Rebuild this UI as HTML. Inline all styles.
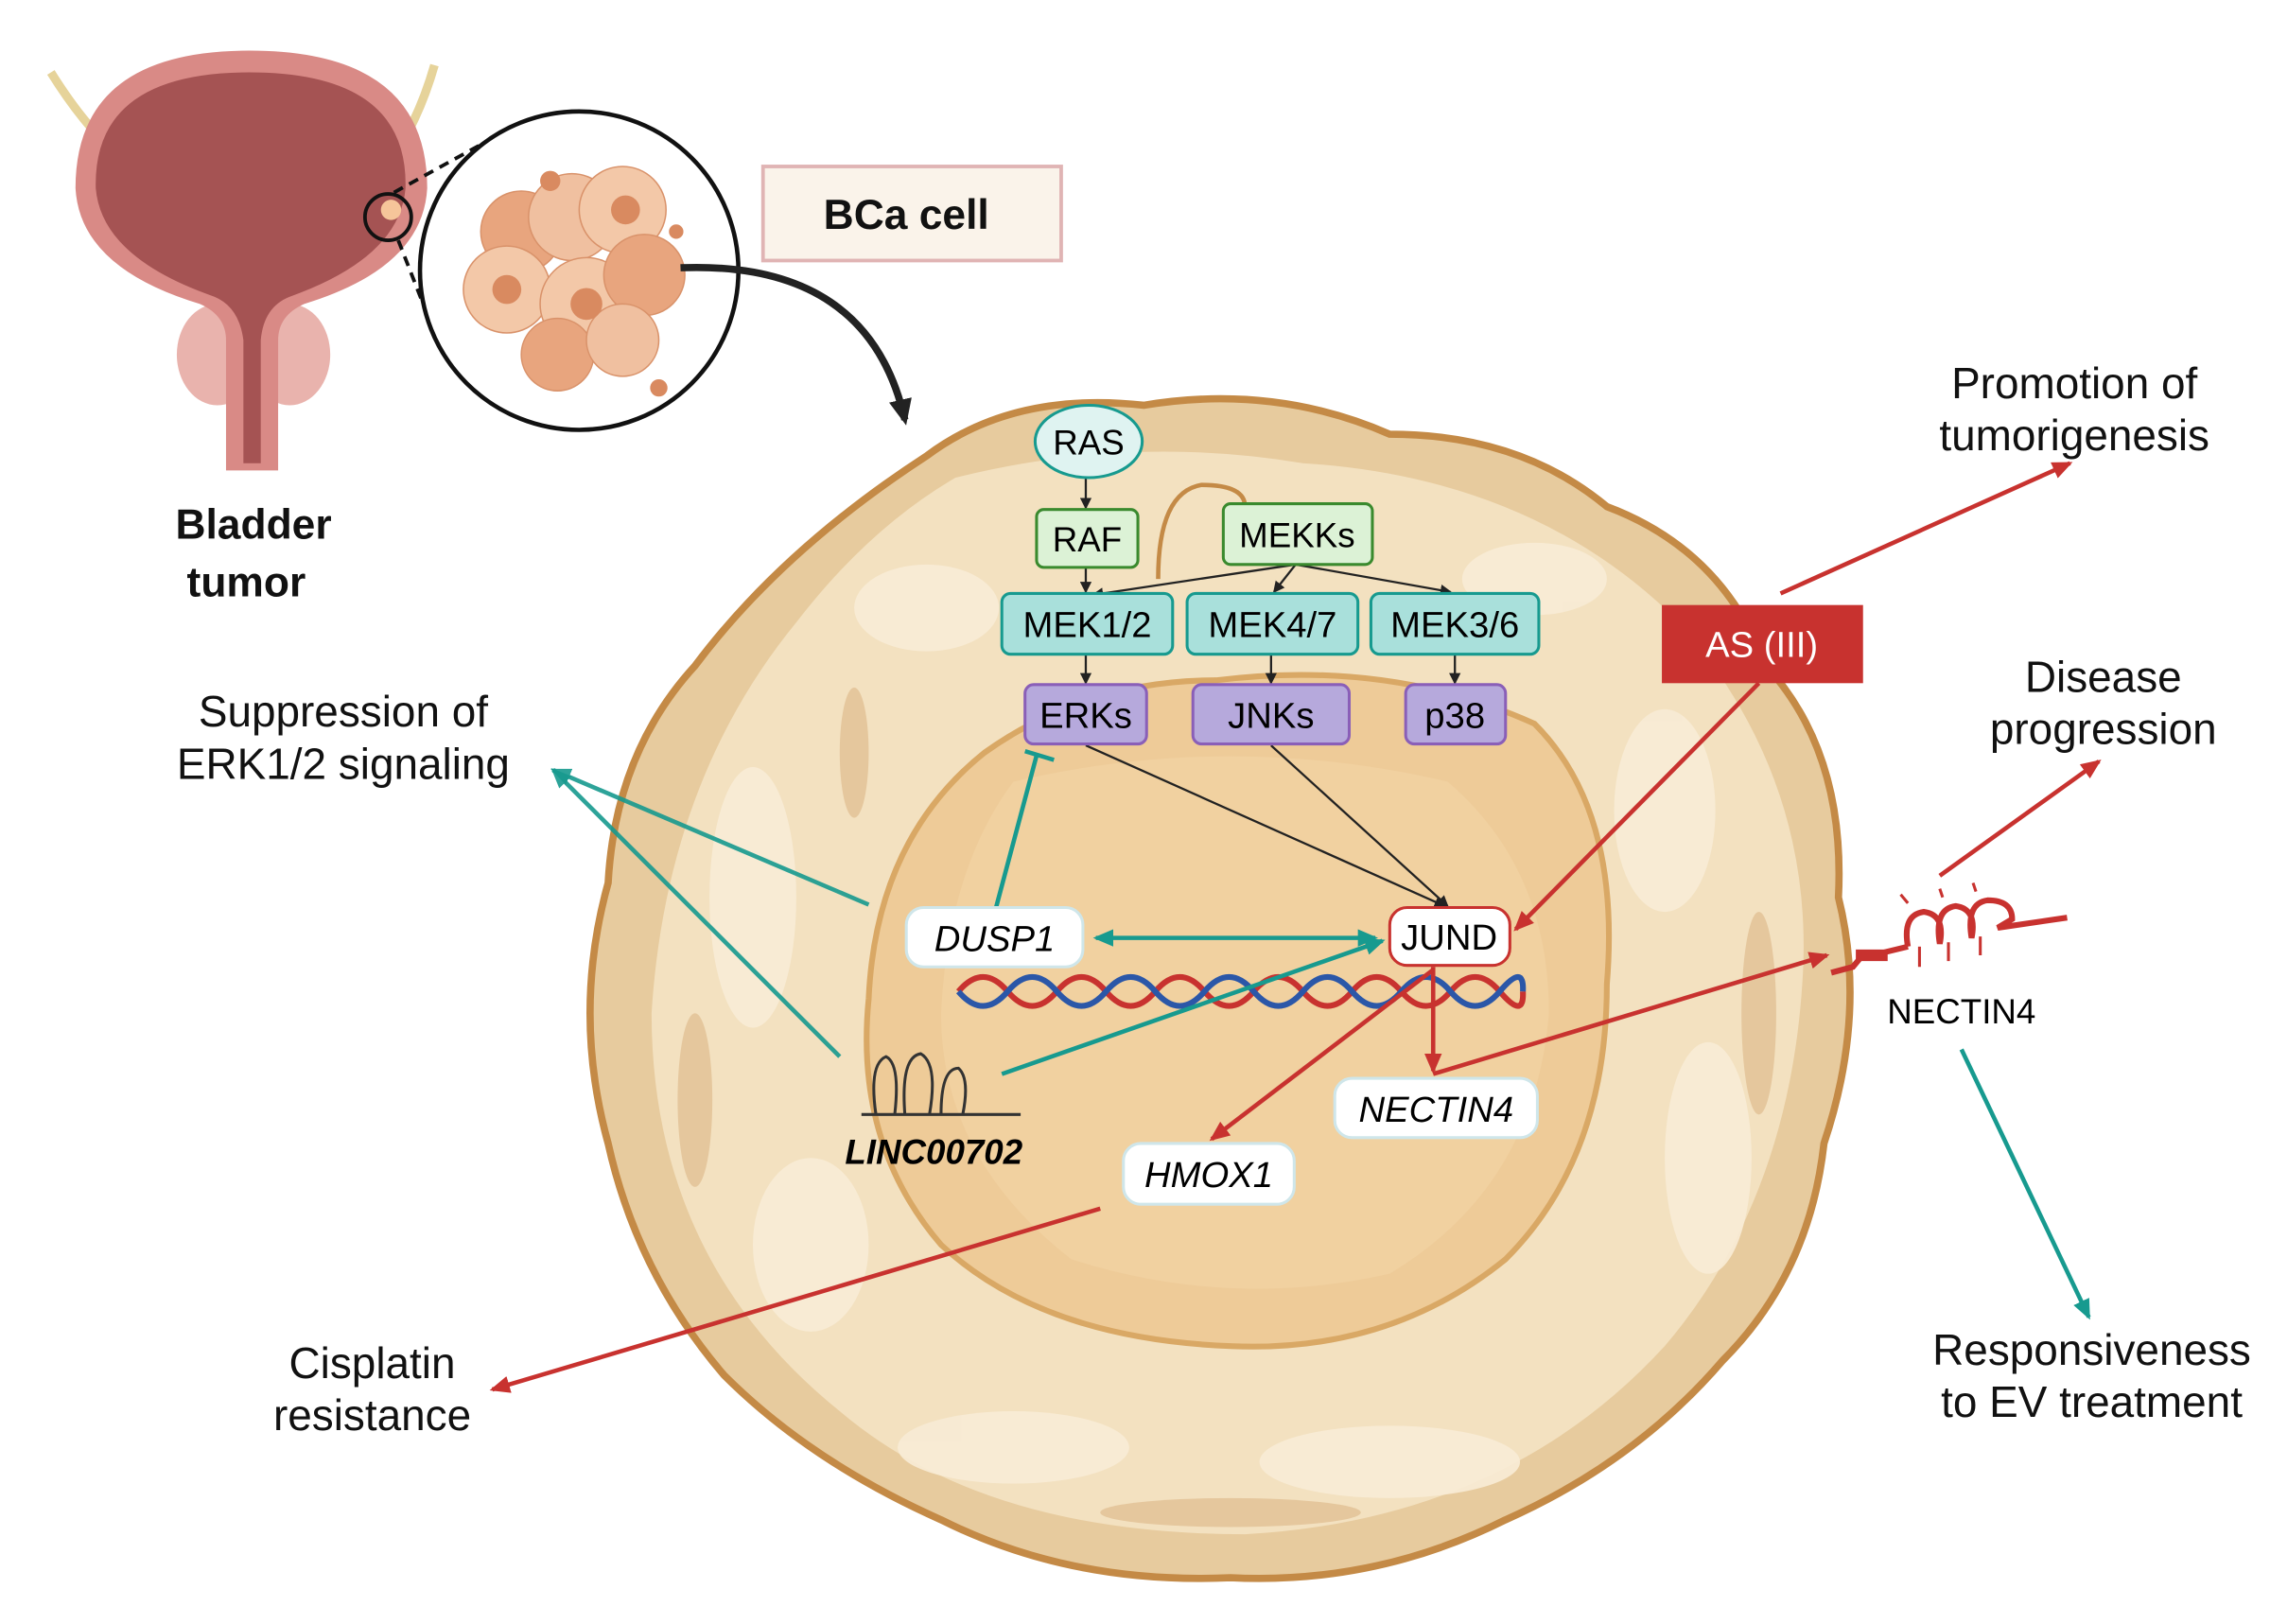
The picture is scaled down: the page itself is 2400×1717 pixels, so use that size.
<!DOCTYPE html>
<html><head><meta charset="utf-8"><style>
html,body{margin:0;padding:0;background:#fff;}
svg{display:block;}
text{font-family:"Liberation Sans",sans-serif;}
</style></head><body>
<svg width="2400" height="1717" viewBox="0 0 1568 1122" xmlns="http://www.w3.org/2000/svg">
<defs>
<marker id="ab" markerWidth="8" markerHeight="8" refX="7" refY="4" orient="auto" markerUnits="userSpaceOnUse"><path d="M0,0 L8,4 L0,8 z" fill="#222"/></marker>
<marker id="ar" markerWidth="14" markerHeight="12" refX="12" refY="6" orient="auto" markerUnits="userSpaceOnUse"><path d="M0,0 L14,6 L0,12 z" fill="#c8322f"/></marker>
<marker id="at" markerWidth="14" markerHeight="12" refX="12" refY="6" orient="auto" markerUnits="userSpaceOnUse"><path d="M0,0 L14,6 L0,12 z" fill="#179a8f"/></marker>
<marker id="atb" markerWidth="14" markerHeight="12" refX="2" refY="6" orient="auto" markerUnits="userSpaceOnUse"><path d="M14,0 L0,6 L14,12 z" fill="#179a8f"/></marker>
<marker id="ak" markerWidth="18" markerHeight="16" refX="14" refY="8" orient="auto" markerUnits="userSpaceOnUse"><path d="M0,0 L18,8 L0,16 z" fill="#222"/></marker>
</defs>

<!-- Bladder -->
<path d="M35,50 Q60,90 85,110" stroke="#e6d39a" stroke-width="6" fill="none"/>
<path d="M300,45 Q290,80 272,108" stroke="#e6d39a" stroke-width="6" fill="none"/>
<ellipse cx="150" cy="245" rx="28" ry="35" fill="#e9b3ad"/>
<ellipse cx="200" cy="245" rx="28" ry="35" fill="#e9b3ad"/>
<path d="M172,35 Q295,35 295,130 Q292,185 210,210 Q192,218 192,235 L192,325 L156,325 L156,235 Q156,218 138,210 Q55,185 52,130 Q52,35 172,35 Z" fill="#d98a86"/>
<path d="M172,50 Q282,50 280,130 Q276,178 200,205 Q182,212 180,235 L180,320 L168,320 L168,235 Q165,212 148,205 Q70,178 66,130 Q64,50 172,50 Z" fill="#a55353"/>
<circle cx="270" cy="145" r="7" fill="#f6c59a"/>
<circle cx="268" cy="150" r="16" fill="none" stroke="#111" stroke-width="2.5"/>
<path d="M272,133 L350,90" stroke="#111" stroke-width="2.5" stroke-dasharray="7,5"/>
<path d="M275,166 L300,230" stroke="#111" stroke-width="2.5" stroke-dasharray="7,5"/>
<text x="175" y="372" font-size="29" font-weight="bold" text-anchor="middle" fill="#111">Bladder</text>
<text x="170" y="412" font-size="29" font-weight="bold" text-anchor="middle" fill="#111">tumor</text>

<!-- magnified circle -->
<ellipse cx="400" cy="187" rx="110" ry="110" fill="#fff" stroke="#111" stroke-width="3"/>
<g fill="#e8a57e" stroke="#d9926a">
<circle cx="360" cy="160" r="28"/><circle cx="395" cy="150" r="30" fill="#f0c0a0"/><circle cx="430" cy="145" r="30" fill="#f3c8a8"/>
<circle cx="350" cy="200" r="30" fill="#f3c8a8"/><circle cx="405" cy="210" r="32" fill="#f3c8a8"/><circle cx="445" cy="190" r="28"/>
<circle cx="385" cy="245" r="25"/><circle cx="430" cy="235" r="25" fill="#f0c0a0"/>
</g>
<g fill="#d98a60"><circle cx="432" cy="145" r="10"/><circle cx="350" cy="200" r="10"/><circle cx="405" cy="210" r="11"/><circle cx="380" cy="125" r="7"/><circle cx="455" cy="268" r="6"/><circle cx="467" cy="160" r="5"/></g>
<path d="M470,185 Q600,180 625,290" stroke="#222" stroke-width="5" fill="none" marker-end="url(#ak)"/>

<!-- BCa box -->
<rect x="527" y="115" width="206" height="65" fill="#faf3ea" stroke="#e0b4b4" stroke-width="2.5"/>
<text x="626" y="158" font-size="29" font-weight="bold" text-anchor="middle" fill="#111">BCa cell</text>

<!-- Cell -->
<path d="M640,315 Q700,270 790,280 Q880,265 960,300 Q1050,300 1110,350 Q1190,380 1220,460 Q1275,520 1270,620 Q1290,700 1260,790 Q1250,880 1190,940 Q1130,1010 1040,1050 Q950,1095 850,1090 Q740,1095 650,1050 Q560,1010 500,950 Q440,880 420,790 Q395,700 420,610 Q425,520 480,460 Q540,380 640,315 Z" fill="#e7cb9e" stroke="#c48a46" stroke-width="5"/>
<path d="M660,330 Q780,300 900,320 Q1060,330 1160,430 Q1255,540 1245,680 Q1235,830 1150,930 Q1040,1050 860,1060 Q680,1060 580,975 Q450,870 450,700 Q460,540 550,430 Q600,365 660,330 Z" fill="#f3e1c0"/>
<g fill="#f8ecd6" opacity="0.9">
<ellipse cx="520" cy="620" rx="30" ry="90"/><ellipse cx="560" cy="860" rx="40" ry="60"/><ellipse cx="700" cy="1000" rx="80" ry="25"/>
<ellipse cx="960" cy="1010" rx="90" ry="25"/><ellipse cx="1180" cy="800" rx="30" ry="80"/><ellipse cx="1150" cy="560" rx="35" ry="70"/>
<ellipse cx="640" cy="420" rx="50" ry="30"/><ellipse cx="1060" cy="400" rx="50" ry="25"/>
</g>
<g fill="#dcb586" opacity="0.6">
<ellipse cx="480" cy="760" rx="12" ry="60"/><ellipse cx="1215" cy="700" rx="12" ry="70"/><ellipse cx="850" cy="1045" rx="90" ry="10"/><ellipse cx="590" cy="520" rx="10" ry="45"/>
</g>
<path d="M840,470 Q960,455 1060,500 Q1120,560 1110,680 Q1110,800 1040,870 Q960,935 850,930 Q720,925 650,860 Q590,790 600,690 Q605,580 680,520 Q750,470 840,470 Z" fill="#eecb98" stroke="#d9a865" stroke-width="4"/>
<path d="M700,540 Q850,505 1000,540 Q1070,600 1070,700 Q1060,820 960,880 Q850,905 740,870 Q650,800 650,700 Q655,600 700,540 Z" fill="#f2d3a4" opacity="0.7"/>
<path d="M800,400 Q800,340 830,335 Q860,335 860,350" stroke="#c48a46" stroke-width="3" fill="none"/>

<!-- pathway arrows -->
<g stroke="#222" stroke-width="1.5" fill="none" marker-end="url(#ab)">
<line x1="750" y1="330" x2="750" y2="351"/>
<line x1="750" y1="392" x2="750" y2="409"/>
<line x1="895" y1="390" x2="755" y2="411"/>
<line x1="895" y1="390" x2="880" y2="409"/>
<line x1="895" y1="390" x2="1002" y2="409"/>
<line x1="750" y1="452" x2="750" y2="472"/>
<line x1="878" y1="452" x2="878" y2="472"/>
<line x1="1005" y1="452" x2="1005" y2="472"/>
<line x1="750" y1="515" x2="998" y2="626"/>
<line x1="878" y1="515" x2="1000" y2="626"/>
</g>

<!-- nodes -->
<ellipse cx="752" cy="305" rx="37" ry="25" fill="#dff3f1" stroke="#179a8f" stroke-width="2"/>
<text x="752" y="314" font-size="24" text-anchor="middle">RAS</text>
<rect x="716" y="352" width="70" height="40" rx="5" fill="#dcf2d6" stroke="#3a8a2e" stroke-width="2"/>
<text x="751" y="381" font-size="24" text-anchor="middle">RAF</text>
<rect x="845" y="348" width="103" height="42" rx="5" fill="#dcf2d6" stroke="#3a8a2e" stroke-width="2"/>
<text x="896" y="378" font-size="24" text-anchor="middle">MEKKs</text>
<g fill="#a9e0db" stroke="#179a8f" stroke-width="2">
<rect x="692" y="410" width="118" height="42" rx="6"/><rect x="820" y="410" width="118" height="42" rx="6"/><rect x="947" y="410" width="116" height="42" rx="6"/></g>
<g font-size="25" text-anchor="middle">
<text x="751" y="440">MEK1/2</text>
<text x="879" y="440">MEK4/7</text>
<text x="1005" y="440">MEK3/6</text>
</g>
<g fill="#b6a9dc" stroke="#8a5fb8" stroke-width="2">
<rect x="708" y="473" width="84" height="41" rx="6"/><rect x="824" y="473" width="108" height="41" rx="6"/><rect x="971" y="473" width="69" height="41" rx="6"/></g>
<g font-size="25" text-anchor="middle">
<text x="750" y="503">ERKs</text>
<text x="878" y="503">JNKs</text>
<text x="1005" y="503">p38</text>
</g>

<rect x="1148" y="418" width="139" height="54" fill="#c8322f"/>
<text x="1217" y="454" font-size="25" text-anchor="middle" fill="#fff">AS (III)</text>

<!-- DNA -->
<path d="M662,685 Q679,665 696,685 T730,685 T764,685 T798,685 T832,685 T866,685 T900,685 T934,685 T968,685 T1002,685 T1036,685 T1052,685" stroke="#c8322f" stroke-width="4" fill="none"/>
<path d="M662,685 Q679,705 696,685 T730,685 T764,685 T798,685 T832,685 T866,685 T900,685 T934,685 T968,685 T1002,685 T1036,685 T1052,685" stroke="#2b57a8" stroke-width="4" fill="none"/>

<!-- teal connectors -->
<g stroke="#179a8f" stroke-width="3" fill="none">
<line x1="688" y1="627" x2="716" y2="522"/>
<line x1="708" y1="519" x2="728" y2="525"/>
<line x1="757" y1="648" x2="950" y2="648" marker-start="url(#atb)" marker-end="url(#at)"/>
<line x1="692" y1="742" x2="955" y2="650" marker-end="url(#at)"/>
<line x1="600" y1="625" x2="382" y2="532" marker-end="url(#at)" opacity="0.9"/>
<line x1="580" y1="730" x2="382" y2="532" marker-end="url(#at)" opacity="0.9"/>
<line x1="1355" y1="725" x2="1443" y2="910" marker-end="url(#at)"/>
</g>
<!-- red connectors -->
<g stroke="#c8322f" stroke-width="3" fill="none" marker-end="url(#ar)">
<line x1="1230" y1="410" x2="1430" y2="320"/>
<line x1="1340" y1="605" x2="1450" y2="526"/>
<line x1="1215" y1="472" x2="1047" y2="642"/>
<line x1="990" y1="668" x2="990" y2="740"/>
<line x1="990" y1="670" x2="837" y2="787"/>
<line x1="990" y1="742" x2="1262" y2="660"/>
<line x1="760" y1="835" x2="340" y2="960"/>
</g>

<!-- membrane NECTIN4 -->
<g stroke="#c8322f" stroke-width="4" fill="none">
<path d="M1265,672 L1280,668 L1285,662 L1318,654"/>
<path d="M1318,654 Q1314,632 1329,630 Q1344,632 1340,652 Q1336,628 1351,626 Q1366,628 1362,648 Q1358,624 1373,622 Q1390,622 1390,635 L1380,641 L1428,634"/>
</g>
<g stroke="#c8322f" stroke-width="2"><line x1="1326" y1="654" x2="1326" y2="668"/><line x1="1346" y1="651" x2="1346" y2="664"/><line x1="1368" y1="647" x2="1368" y2="660"/><line x1="1318" y1="624" x2="1313" y2="618"/><line x1="1342" y1="620" x2="1340" y2="614"/><line x1="1365" y1="616" x2="1363" y2="610"/></g>
<rect x="1282" y="656" width="22" height="8" fill="#c8322f"/>
<text x="1355" y="707" font-size="24" text-anchor="middle">NECTIN4</text>

<!-- gene nodes -->
<rect x="960" y="627" width="83" height="40" rx="12" fill="#fff" stroke="#c8322f" stroke-width="2"/>
<text x="1001" y="656" font-size="25" text-anchor="middle">JUND</text>
<rect x="626" y="627" width="122" height="41" rx="12" fill="#fff" stroke="#cfe6ea" stroke-width="2"/>
<text x="687" y="657" font-size="25" font-style="italic" text-anchor="middle">DUSP1</text>
<rect x="922" y="745" width="140" height="41" rx="12" fill="#fff" stroke="#cfe6ea" stroke-width="2"/>
<text x="992" y="775" font-size="25" font-style="italic" text-anchor="middle">NECTIN4</text>
<rect x="776" y="790" width="118" height="42" rx="12" fill="#fff" stroke="#cfe6ea" stroke-width="2"/>
<text x="835" y="820" font-size="25" font-style="italic" text-anchor="middle">HMOX1</text>

<!-- LINC -->
<path d="M595,770 L705,770 M605,770 Q600,735 612,730 Q622,735 618,770 M625,770 Q622,730 636,728 Q648,735 642,770 M650,770 Q650,738 662,738 Q670,745 665,770" stroke="#333" stroke-width="2" fill="none"/>
<text x="645" y="804" font-size="24" font-weight="bold" font-style="italic" text-anchor="middle">LINC00702</text>

<!-- labels -->
<g font-size="30" text-anchor="middle" fill="#111">
<text x="237" y="502">Suppression of</text><text x="237" y="538">ERK1/2 signaling</text>
<text x="257" y="952">Cisplatin</text><text x="257" y="988">resistance</text>
<text x="1433" y="275">Promotion of</text><text x="1433" y="311">tumorigenesis</text>
<text x="1453" y="478">Disease</text><text x="1453" y="514">progression</text>
<text x="1445" y="943">Responsiveness</text><text x="1445" y="979">to EV treatment</text>
</g>
</svg>
</body></html>
